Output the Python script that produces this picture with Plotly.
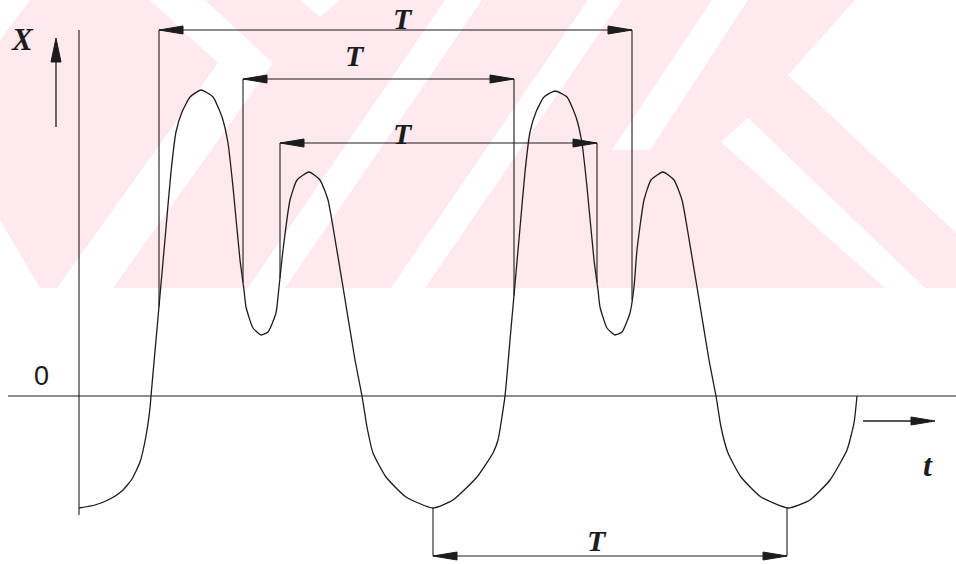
import numpy as np
import plotly.graph_objects as go

# Oscillation X(t); t measured from the X axis, X measured from the t axis
t_vals = [0, 16, 31, 43, 53, 61, 67, 71, 72, 77, 82, 87, 92, 97, 103, 111, 122, 134, 143,
          149, 154, 161, 165, 167, 174, 182, 189, 197, 200, 204, 211, 218, 230, 241, 249,
          254, 264, 276, 283, 288, 294, 307, 327, 354, 374, 398, 414, 419, 426, 431, 436,
          441, 446, 451, 457, 465, 476, 488, 497, 503, 508, 515, 519, 521, 528, 536, 543,
          551, 555, 558, 565, 572, 584, 595, 603, 608, 618, 630, 637, 642, 649, 662, 682,
          709, 731, 751, 768, 775, 778]
x_vals = [-112, -109, -103, -95, -83, -66, -40, -12, 0, 56, 112, 168, 224, 264, 284, 299,
          306, 299, 279, 253, 209, 136, 106, 89, 68, 61, 64, 83, 109, 146, 196, 216, 224,
          216, 196, 169, 109, 36, 0, -31, -57, -81, -101, -112, -104, -81, -57, -44, 0, 56,
          112, 168, 224, 264, 284, 299, 305, 299, 279, 253, 209, 136, 106, 89, 68, 61, 64,
          83, 109, 146, 196, 216, 224, 216, 196, 169, 109, 36, 0, -31, -57, -81, -101, -112,
          -104, -84, -54, -27, 0]

# Period markers: start, end, level of the dimension line, label position
period_start = [80, 164, 201, 354]
period_end = [553, 435, 518, 708]
period_level = [366, 317, 253, -160]
period_label = ["T", "T", "T", "T"]
label_t = [324, 276, 324, 518]
label_x = [378, 341, 263, -144]

# Axes extents
t_axis = [-71, 877]
x_axis = [-119, 366]

# Background emblem (page pixels): tinted band and the white cut-outs on it
band_px = [(0, 0), (956, 0), (956, 288), (0, 288)]
cutouts_px = [
    [(855, 0), (956, 0), (956, 233), (788, 75)],
    [(721, 142), (748, 118), (925, 288), (885, 288)],
    [(300, 0), (340, 0), (320, 17)],
    [(150, 0), (205, 0), (273, 63), (113, 288), (57, 288), (218, 63)],
    [(0, 0), (30, 0), (0, 40)],
    [(0, 220), (40, 288), (0, 288)],
    [(445, 0), (482, 0), (285, 288), (248, 288)],
    [(588, 0), (622, 0), (425, 288), (391, 288)],
    [(712, 0), (748, 0), (650, 150), (612, 150)],
]
TINT = "#fde9ee"

INK = "#1c1c1c"
W, H = 956, 564
fig = go.Figure()

fig.add_trace(go.Scatter(x=t_vals, y=x_vals, mode="lines",
                         line=dict(color=INK, width=1.3, shape="spline", smoothing=0.5),
                         hoverinfo="skip", showlegend=False))

shapes = []


def poly_paper(pts, color):
    path = "M " + " L ".join(f"{px / W:.5f},{1 - py / H:.5f}" for px, py in pts) + " Z"
    shapes.append(dict(type="path", xref="paper", yref="paper", path=path, layer="below",
                       fillcolor=color, line=dict(width=0)))


poly_paper(band_px, TINT)
for c in cutouts_px:
    poly_paper(c, "white")


def seg(x0, y0, x1, y1, w=1.1):
    shapes.append(dict(type="line", xref="x", yref="y", x0=x0, y0=y0, x1=x1, y1=y1,
                       line=dict(color=INK, width=w)))


def head(tx, ty, dx, dy, length=24, half=4):
    # filled triangular arrow head with its tip at (tx, ty), pointing along (dx, dy)
    bx, by = tx - dx * length, ty - dy * length
    px, py = -dy * half, dx * half
    path = f"M {tx},{ty} L {bx + px},{by + py} L {bx - px},{by - py} Z"
    shapes.append(dict(type="path", xref="x", yref="y", path=path,
                       fillcolor=INK, line=dict(color=INK, width=1)))


# coordinate axes
seg(t_axis[0], 0, t_axis[1], 0)
seg(0, x_axis[0], 0, x_axis[1])

# direction arrows next to the axis names
seg(-23, 269, -23, 340, w=1.3)
head(-23, 358, 0, 1, length=24, half=5)
seg(784, -25, 840, -25, w=1.3)
head(856, -25, 1, 0, length=24, half=4)

# period dimension lines
for a, b, lev in zip(period_start, period_end, period_level):
    ya = float(np.interp(a, t_vals, x_vals))
    yb = float(np.interp(b, t_vals, x_vals))
    seg(a, lev, b, lev)
    seg(a, lev, a, ya)
    seg(b, lev, b, yb)
    head(a, lev, -1, 0)
    head(b, lev, 1, 0)

annotations = []
serif = "Liberation Serif, Times New Roman, serif"
for lbl, lt, lx in zip(period_label, label_t, label_x):
    annotations.append(dict(x=lt, y=lx, xref="x", yref="y", text=f"<b><i>{lbl}</i></b>",
                            showarrow=False, font=dict(family=serif, size=30, color=INK)))
annotations.append(dict(x=-57, y=357, xref="x", yref="y", text="<b><i>X</i></b>", showarrow=False,
                        font=dict(family=serif, size=31, color=INK)))
annotations.append(dict(x=-38, y=20, xref="x", yref="y", text="0", showarrow=False,
                        font=dict(family="Liberation Sans, Arial, sans-serif", size=27, color=INK)))
annotations.append(dict(x=849, y=-69, xref="x", yref="y", text="<b><i>t</i></b>", showarrow=False,
                        font=dict(family=serif, size=32, color=INK)))

fig.update_layout(
    width=W, height=H,
    margin=dict(l=0, r=0, t=0, b=0),
    paper_bgcolor="white", plot_bgcolor="rgba(0,0,0,0)",
    xaxis=dict(range=[-79, 877], visible=False, fixedrange=True),
    yaxis=dict(range=[-168, 396], visible=False, fixedrange=True),
    shapes=shapes, annotations=annotations, showlegend=False,
)

fig.write_html("out.html")
